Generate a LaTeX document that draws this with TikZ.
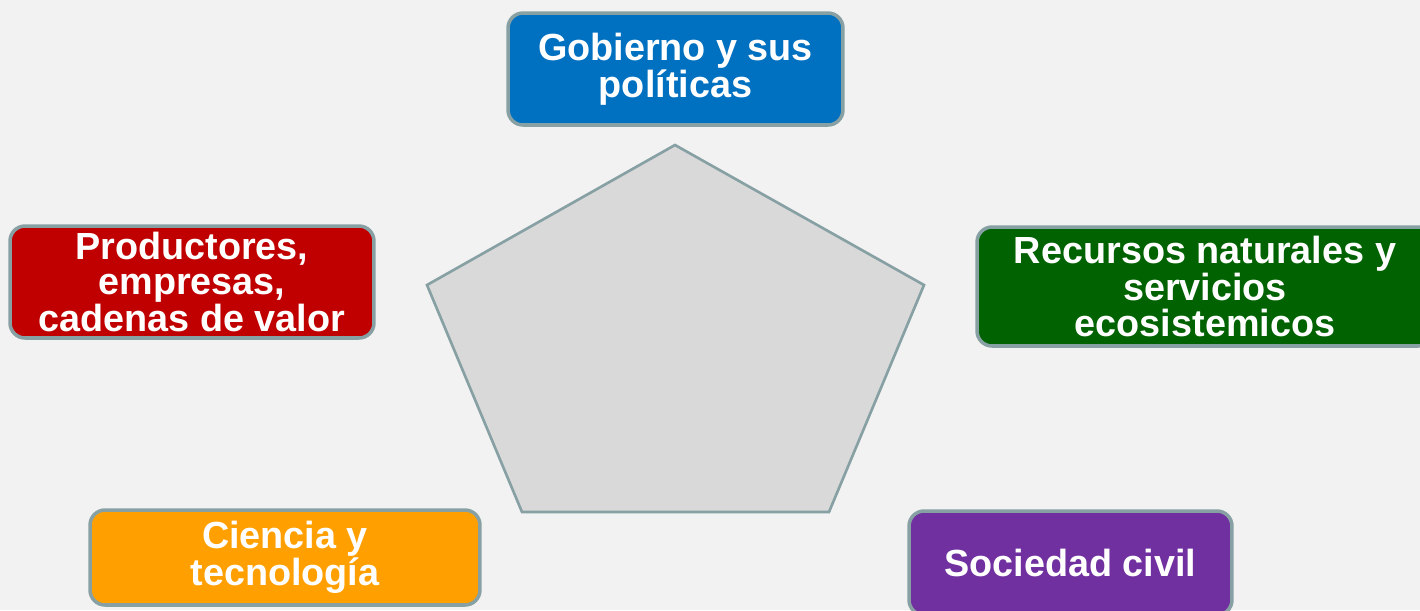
\documentclass[tikz,border=0pt]{standalone}
\usepackage{fontspec}
\setmainfont{Liberation Sans}
\usetikzlibrary{positioning}
\definecolor{fondo}{RGB}{242,242,242}
\definecolor{borde}{RGB}{135,160,164}
\definecolor{gris}{RGB}{217,217,217}
\definecolor{azul}{RGB}{0,112,192}
\definecolor{verde}{RGB}{0,98,0}
\definecolor{rojo}{RGB}{192,0,0}
\definecolor{naranja}{RGB}{255,160,0}
\definecolor{morado}{RGB}{112,48,160}
\tikzset{
  actor/.style={draw=borde, line width=2pt, rounded corners=0.3cm, align=center,
    text=white, font=\fontsize{21.5}{20}\selectfont\bfseries, inner sep=0pt}
}

\begin{document}
\begin{tikzpicture}[x=0.02cm, y=-0.02cm]
    % fondo de la figura
    \fill[fondo] (0,0) rectangle (1420,610);
    \useasboundingbox (0,0) rectangle (1420,610);

    % pentágono central
    \coordinate (p1) at (675,145);
    \coordinate (p2) at (924,285);
    \coordinate (p3) at (829,512);
    \coordinate (p4) at (522,512);
    \coordinate (p5) at (427,285);
    \draw[borde, fill=gris, line width=1.5pt, line join=miter] (p1) -- (p2) -- (p3) -- (p4) -- (p5) -- cycle;

    % Gobierno arriba
    \node[actor, fill=azul, minimum width=6.7cm, minimum height=2.24cm] (gob) at (675.5,69) {Gobierno y sus\\políticas};

    % Recursos naturales a la derecha
    \node[actor, fill=verde, minimum width=9.12cm, minimum height=2.38cm] (rec) at (1205,286.5) {Recursos naturales y\\servicios\\ecosistemicos};

    % Productores a la izquierda
    \node[actor, fill=rojo, minimum width=7.28cm, minimum height=2.24cm] (prod) at (192,282) {Productores,\\empresas,\\cadenas de valor};

    % Ciencia abajo a la izquierda
    \node[actor, fill=naranja, minimum width=7.8cm, minimum height=1.9cm] (cie) at (285,557.5) {Ciencia y\\tecnología};

    % Sociedad civil abajo a la derecha
    \node[actor, fill=morado, minimum width=6.46cm, minimum height=2.08cm] (soc) at (1070.5,563) {Sociedad civil};
\end{tikzpicture}
\end{document}
